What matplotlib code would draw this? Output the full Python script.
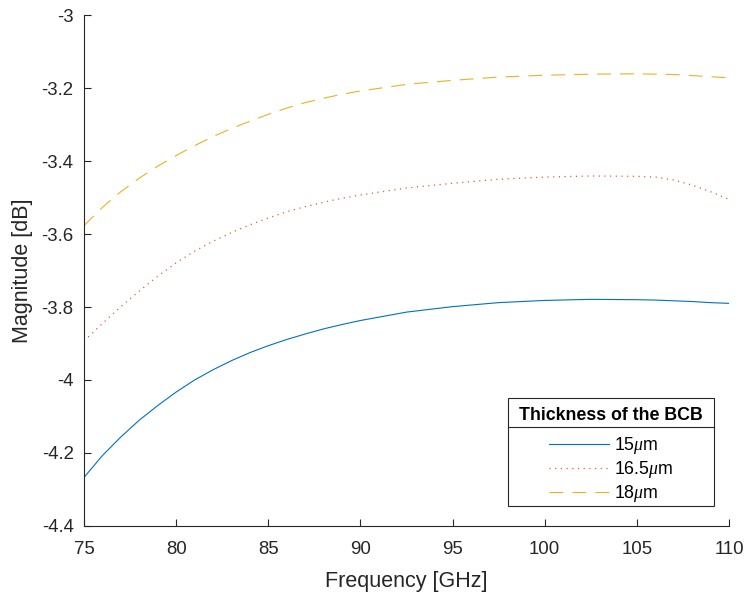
import matplotlib
matplotlib.use("Agg")
import matplotlib.pyplot as plt
from matplotlib.lines import Line2D
from matplotlib.patches import Rectangle

plt.rcParams['font.family'] = ['Liberation Sans', 'DejaVu Sans']
plt.rcParams['mathtext.fontset'] = 'custom'
plt.rcParams['mathtext.it'] = 'Liberation Serif:italic'
plt.rcParams['mathtext.rm'] = 'Liberation Sans'
plt.rcParams['lines.scale_dashes'] = False

freq = [75, 76, 77, 78, 79, 80, 81, 82, 83, 84, 85, 86, 87, 88, 89, 90,
        92.5, 95, 97.5, 100, 102.5, 105, 106, 107, 108, 109, 110]
mag_15 = [-4.267, -4.207, -4.156, -4.110, -4.070, -4.033, -4.000, -3.972, -3.947, -3.925, -3.906,
          -3.889, -3.874, -3.860, -3.848, -3.837,
          -3.814, -3.799, -3.788, -3.782, -3.779, -3.780, -3.781, -3.783, -3.785, -3.788, -3.790]
mag_165 = [-3.893, -3.845, -3.799, -3.756, -3.716, -3.679, -3.647, -3.620, -3.596, -3.575, -3.556,
           -3.539, -3.525, -3.513, -3.502, -3.493,
           -3.474, -3.461, -3.450, -3.444, -3.441, -3.442, -3.444, -3.452, -3.466, -3.484, -3.505]
mag_18 = [-3.577, -3.527, -3.484, -3.447, -3.414, -3.385, -3.358, -3.333, -3.311, -3.291, -3.272,
          -3.255, -3.240, -3.228, -3.217, -3.208,
          -3.190, -3.179, -3.170, -3.165, -3.162, -3.161, -3.162, -3.163, -3.166, -3.169, -3.172]
labels = [r'15$\mu$m', r'16.5$\mu$m', r'18$\mu$m']
xticks = [75, 80, 85, 90, 95, 100, 105, 110]
yticks = [-4.4, -4.2, -4.0, -3.8, -3.6, -3.4, -3.2, -3.0]
ytick_labels = ['-4.4', '-4.2', '-4', '-3.8', '-3.6', '-3.4', '-3.2', '-3']

W, H = 750, 594
fig = plt.figure(figsize=(W / 100, H / 100), dpi=100)
ax = fig.add_axes([0.112, 0.1145, 0.860, 0.8602])

ax.plot(freq, mag_15, color='#0072BD', lw=0.8, label=labels[0])
ax.plot(freq, mag_165, color='#D95319', lw=0.9, linestyle=(0, (0.8, 3.3)), label=labels[1])
ax.plot(freq, mag_18, color='#EDB120', lw=0.8, linestyle=(0, (10, 6.5)), label=labels[2])

ax.set_xlim(75, 110)
ax.set_ylim(-4.4, -3.0)
ax.set_xticks(xticks)
ax.set_yticks(yticks)
ax.set_yticklabels(ytick_labels)
for s in ['top', 'right']:
    ax.spines[s].set_visible(False)
for s in ['left', 'bottom']:
    ax.spines[s].set_color('#262626')
    ax.spines[s].set_linewidth(0.8)
ax.tick_params(direction='in', length=5, width=0.8, colors='#262626', labelsize=13.4)
ax.tick_params(axis='x', pad=10.5)
ax.tick_params(axis='y', pad=7.5)
ax.set_xlabel('Frequency [GHz]', fontsize=15.5, color='#262626', labelpad=10)
ax.set_ylabel('Magnitude [dB]', fontsize=15.5, color='#262626', labelpad=6)

# legend box (pixel coordinates from top-left of the figure)
bx0, bx1, by0, by1, ysep = 508, 714, 398, 506, 427
cx, cy = (bx0 + bx1) / 2, 455.5
leg = ax.legend(loc='center', bbox_to_anchor=(cx / W, 1 - cy / H), bbox_transform=fig.transFigure,
                fontsize=12.8,
                title='Thickness of the BCB', title_fontproperties={'weight': 'bold', 'size': 12.8},
                frameon=False, handlelength=3.4,
                borderpad=0.0, labelspacing=0.18, handletextpad=0.3, borderaxespad=0)
leg._legend_box.sep = 8

fig.add_artist(Rectangle((bx0 / W, 1 - by1 / H), (bx1 - bx0) / W, (by1 - by0) / H,
                         transform=fig.transFigure, fill=False, edgecolor='#262626', lw=0.8,
                         zorder=5))
fig.add_artist(Line2D([bx0 / W, bx1 / W], [1 - ysep / H, 1 - ysep / H],
                      transform=fig.transFigure, color='#262626', lw=0.8, zorder=5))

fig.savefig('out.png', dpi=100)
